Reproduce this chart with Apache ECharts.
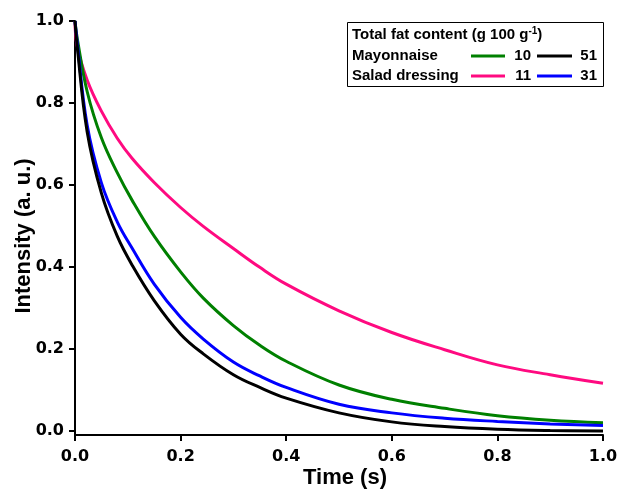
<!DOCTYPE html>
<html>
<head>
<meta charset="utf-8">
<script src="https://cdn.jsdelivr.net/npm/echarts@6/dist/echarts.min.js"></script>
<style>html,body{margin:0;padding:0;background:#fff}#c{width:620px;height:489px}</style>
</head>
<body>
<div id="c"></div>
<script>
// Time points (s)
const time = [0, 0.004, 0.023, 0.05, 0.08, 0.108, 0.15, 0.2, 0.243, 0.3, 0.35, 0.4, 0.5, 0.6, 0.7, 0.8, 0.9, 1.0];
// Intensities (a. u.)
const mayo10  = [1.0, 0.96, 0.828, 0.715, 0.630, 0.563, 0.475, 0.388, 0.324, 0.257, 0.209, 0.170, 0.112, 0.077, 0.055, 0.037, 0.026, 0.020];
const mayo51  = [1.0, 0.94, 0.730, 0.580, 0.475, 0.405, 0.318, 0.236, 0.188, 0.137, 0.106, 0.080, 0.044, 0.022, 0.0105, 0.004, 0.001, 0.0];
const salad11 = [1.0, 0.94, 0.856, 0.780, 0.714, 0.665, 0.606, 0.545, 0.499, 0.445, 0.399, 0.358, 0.293, 0.240, 0.198, 0.161, 0.137, 0.116];
const salad31 = [1.0, 0.95, 0.746, 0.605, 0.510, 0.446, 0.358, 0.277, 0.224, 0.168, 0.134, 0.106, 0.065, 0.044, 0.031, 0.023, 0.017, 0.013];
const xTicks = [0, 0.2, 0.4, 0.6, 0.8, 1.0];
const yTicks = [0, 0.2, 0.4, 0.6, 0.8, 1.0];
const legendTitle = 'Total fat content (g 100 g';
const rowNames = ['Mayonnaise', 'Salad dressing'];
const rowLabels = [['10', '51'], ['11', '31']];

const colors = {m10: '#008000', m51: '#000000', s11: '#ff0a80', s31: '#0000ff'};
const pairs = arr => time.map((t, i) => [t, arr[i]]);
const F = '"Liberation Sans", Arial, sans-serif';
const TF = '"DejaVu Sans", sans-serif';

const chart = echarts.init(document.getElementById('c'), null, {renderer: 'canvas'});
const mkSeries = (name, data, color) => ({
  name, type: 'line', data: pairs(data), showSymbol: false, symbol: 'none',
  smooth: 0.4,
  lineStyle: {color, width: 3}, itemStyle: {color}, z: 3
});

const lx0 = 347, ly0 = 22, lw = 256, lh = 64;
const legendGraphics = [
  {type: 'rect', shape: {x: lx0 + 0.5, y: ly0 + 0.5, width: lw, height: lh},
   style: {fill: '#fff', stroke: '#000', lineWidth: 1}, z: 10},
  {type: 'text', x: 352, y: 35, z: 11, style: {
    text: '{a|' + legendTitle + '}{s|-1}{a|)}', verticalAlign: 'middle', align: 'left',
    rich: {a: {font: 'bold 15px ' + F, fill: '#000'}, s: {font: 'bold 10px ' + F, fill: '#000', verticalAlign: 'top', padding: [0, 0, 8, 0]}}
  }}
];
const rowY = [56, 76];
const rowColors = [[colors.m10, colors.m51], [colors.s11, colors.s31]];
rowNames.forEach((n, r) => {
  legendGraphics.push({type: 'text', x: 352, y: rowY[r], z: 11,
    style: {text: n, font: 'bold 15px ' + F, fill: '#000', verticalAlign: 'middle', align: 'left'}});
  legendGraphics.push({type: 'line', z: 11, shape: {x1: 471, y1: rowY[r], x2: 505, y2: rowY[r]},
    style: {stroke: rowColors[r][0], lineWidth: 3}});
  legendGraphics.push({type: 'text', x: 531, y: rowY[r], z: 11,
    style: {text: rowLabels[r][0], font: 'bold 15px ' + F, fill: '#000', verticalAlign: 'middle', align: 'right'}});
  legendGraphics.push({type: 'line', z: 11, shape: {x1: 537, y1: rowY[r], x2: 572, y2: rowY[r]},
    style: {stroke: rowColors[r][1], lineWidth: 3}});
  legendGraphics.push({type: 'text', x: 597, y: rowY[r], z: 11,
    style: {text: rowLabels[r][1], font: 'bold 15px ' + F, fill: '#000', verticalAlign: 'middle', align: 'right'}});
});

chart.setOption({
  animation: false,
  backgroundColor: '#fff',
  grid: {left: 75, right: 17, top: 21, bottom: 54, containLabel: false, outerBoundsMode: 'none'},
  xAxis: {
    type: 'value', min: 0, max: 1.0, interval: 0.2,
    name: 'Time (s)', nameLocation: 'middle', nameGap: 32, nameMoveOverlap: false,
    nameTextStyle: {fontFamily: F, fontWeight: 'bold', fontSize: 22, color: '#000', padding: [0, 0, 0, 12]},
    axisLine: {show: true, onZero: false, lineStyle: {color: '#000', width: 2}},
    axisTick: {show: true, inside: false, length: 6, lineStyle: {color: '#000', width: 2}},
    axisLabel: {fontFamily: TF, fontWeight: 'bold', fontSize: 16, color: '#000', margin: 14,
      customValues: xTicks, formatter: v => v.toFixed(1)},
    splitLine: {show: false}
  },
  yAxis: {
    type: 'value', min: -0.01, max: 1.0,
    name: 'Intensity (a. u.)', nameLocation: 'middle', nameGap: 40, nameMoveOverlap: false,
    nameTextStyle: {fontFamily: F, fontWeight: 'bold', fontSize: 22, color: '#000', padding: [0, 16, 0, 0]},
    axisLine: {show: true, onZero: false, lineStyle: {color: '#000', width: 2}},
    axisTick: {show: true, inside: false, length: 6, customValues: yTicks, lineStyle: {color: '#000', width: 2}},
    axisLabel: {fontFamily: TF, fontWeight: 'bold', fontSize: 16, color: '#000', margin: 11,
      customValues: yTicks, formatter: v => v.toFixed(1)},
    splitLine: {show: false}
  },
  series: [
    mkSeries('Salad dressing 11', salad11, colors.s11),
    mkSeries('Mayonnaise 10', mayo10, colors.m10),
    mkSeries('Salad dressing 31', salad31, colors.s31),
    mkSeries('Mayonnaise 51', mayo51, colors.m51)
  ],
  graphic: legendGraphics
});
</script>
</body>
</html>
